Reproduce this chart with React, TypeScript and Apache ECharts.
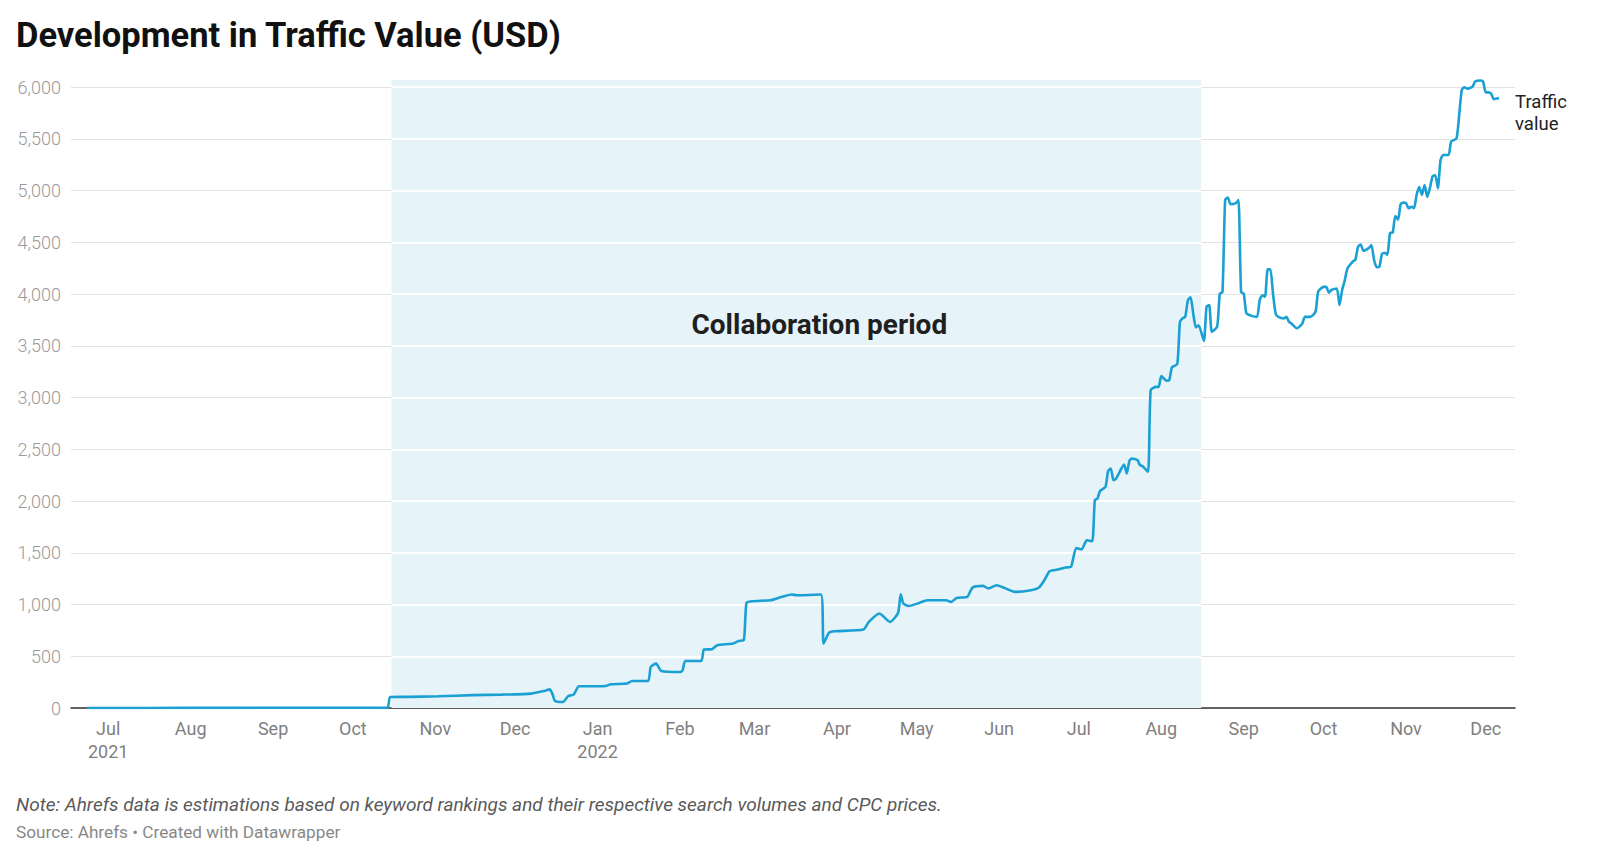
import React, { useEffect, useRef } from "react";
import * as echarts from "echarts";

// ---- data ----
const dates: string[] = [
  "2021-06-23", "2021-08-01", "2021-09-01", "2021-10-01", "2021-10-14", "2021-10-15", "2021-10-22",
  "2021-11-02", "2021-11-15", "2021-11-26", "2021-12-07", "2021-12-12", "2021-12-14", "2021-12-15",
  "2021-12-16", "2021-12-19", "2021-12-21", "2021-12-23", "2021-12-25", "2021-12-28", "2022-01-04",
  "2022-01-06", "2022-01-12", "2022-01-14", "2022-01-20", "2022-01-21", "2022-01-23", "2022-01-25",
  "2022-02-01", "2022-02-02", "2022-02-03", "2022-02-09", "2022-02-10", "2022-02-13", "2022-02-15",
  "2022-02-21", "2022-02-23", "2022-02-25", "2022-02-26", "2022-02-28", "2022-03-07", "2022-03-10",
  "2022-03-15", "2022-03-17", "2022-03-26", "2022-03-27", "2022-03-29", "2022-03-31", "2022-04-11",
  "2022-04-13", "2022-04-17", "2022-04-18", "2022-04-21", "2022-04-24", "2022-04-25", "2022-04-26",
  "2022-04-28", "2022-05-02", "2022-05-05", "2022-05-12", "2022-05-14", "2022-05-16", "2022-05-20",
  "2022-05-22", "2022-05-26", "2022-05-28", "2022-05-31", "2022-06-03", "2022-06-07", "2022-06-13",
  "2022-06-16", "2022-06-18", "2022-06-20", "2022-06-23", "2022-06-26", "2022-06-28", "2022-06-30",
  "2022-07-02", "2022-07-04", "2022-07-06", "2022-07-07", "2022-07-08", "2022-07-09", "2022-07-11",
  "2022-07-12", "2022-07-13", "2022-07-14", "2022-07-15", "2022-07-17", "2022-07-18", "2022-07-19",
  "2022-07-20", "2022-07-21", "2022-07-23", "2022-07-24", "2022-07-25", "2022-07-27", "2022-07-28",
  "2022-07-30", "2022-07-31", "2022-08-01", "2022-08-03", "2022-08-04", "2022-08-05", "2022-08-07",
  "2022-08-08", "2022-08-09", "2022-08-10", "2022-08-11", "2022-08-12", "2022-08-13", "2022-08-14",
  "2022-08-15", "2022-08-17", "2022-08-18", "2022-08-19", "2022-08-20", "2022-08-22", "2022-08-23",
  "2022-08-24", "2022-08-25", "2022-08-26", "2022-08-27", "2022-08-29", "2022-08-30", "2022-08-31",
  "2022-09-01", "2022-09-02", "2022-09-04", "2022-09-06", "2022-09-07", "2022-09-08", "2022-09-09",
  "2022-09-10", "2022-09-11", "2022-09-12", "2022-09-13", "2022-09-14", "2022-09-16", "2022-09-17",
  "2022-09-18", "2022-09-19", "2022-09-21", "2022-09-23", "2022-09-24", "2022-09-26", "2022-09-28",
  "2022-09-29", "2022-10-01", "2022-10-02", "2022-10-03", "2022-10-04", "2022-10-06", "2022-10-07",
  "2022-10-08", "2022-10-09", "2022-10-10", "2022-10-12", "2022-10-13", "2022-10-14", "2022-10-15",
  "2022-10-16", "2022-10-18", "2022-10-19", "2022-10-20", "2022-10-21", "2022-10-22", "2022-10-23",
  "2022-10-24", "2022-10-25", "2022-10-26", "2022-10-27", "2022-10-28", "2022-10-29", "2022-10-30",
  "2022-10-31", "2022-11-01", "2022-11-02", "2022-11-03", "2022-11-04", "2022-11-05", "2022-11-06",
  "2022-11-07", "2022-11-08", "2022-11-09", "2022-11-10", "2022-11-11", "2022-11-12", "2022-11-13",
  "2022-11-14", "2022-11-15", "2022-11-17", "2022-11-18", "2022-11-20", "2022-11-21", "2022-11-22",
  "2022-11-23", "2022-11-24", "2022-11-26", "2022-11-27", "2022-11-29", "2022-11-30", "2022-12-01",
  "2022-12-02", "2022-12-03", "2022-12-04", "2022-12-06",
];

const trafficValue: number[] = [
  0, 1, 2, 3, 5, 106, 108,
  113, 124, 129, 139, 165, 180, 139,
  68, 58, 116, 129, 210, 210, 213,
  229, 236, 261, 261, 397, 429, 358,
  348, 365, 455, 455, 565, 568, 606,
  623, 648, 655, 1016, 1032, 1042, 1064,
  1097, 1090, 1097, 623, 726, 742, 758,
  832, 913, 897, 832, 919, 1100, 1010,
  986, 1016, 1042, 1042, 1025, 1064, 1074,
  1164, 1180, 1155, 1187, 1161, 1122, 1138,
  1164, 1235, 1322, 1338, 1358, 1363, 1547,
  1532, 1622, 1612, 2009, 2025, 2099, 2138,
  2292, 2315, 2202, 2218, 2315, 2354, 2267,
  2389, 2412, 2396, 2347, 2337, 2283, 3073,
  3104, 3104, 3208, 3163, 3170, 3292, 3324,
  3733, 3766, 3782, 3943, 3969, 3814, 3679,
  3700, 3549, 3878, 3895, 3636, 3685, 4005,
  4020, 4910, 4935, 4870, 4880, 4910, 4020,
  4005, 3815, 3790, 3780, 3945, 3990, 3975,
  4240, 4240, 4005, 3810, 3780, 3765, 3780,
  3735, 3715, 3670, 3715, 3780, 3780, 3830,
  4025, 4070, 4070, 4015, 4040, 4055, 3895,
  4040, 4135, 4250, 4315, 4335, 4460, 4480,
  4420, 4445, 4475, 4330, 4260, 4265, 4390,
  4400, 4380, 4590, 4595, 4755, 4720, 4870,
  4885, 4880, 4830, 4845, 4830, 4960, 5035,
  4960, 5055, 4940, 5025, 5140, 5150, 5025,
  5295, 5345, 5345, 5475, 5505, 5730, 5975,
  6000, 5985, 6005, 6055, 6065, 6055, 5950,
  5950, 5940, 5885, 5895,
];

const monthTicks: string[] = [
  "2021-07-01", "2021-08-01", "2021-09-01", "2021-10-01", "2021-11-01", "2021-12-01",
  "2022-01-01", "2022-02-01", "2022-03-01", "2022-04-01", "2022-05-01", "2022-06-01",
  "2022-07-01", "2022-08-01", "2022-09-01", "2022-10-01", "2022-11-01", "2022-12-01",
];
const monthNames: string[] = ["Jan", "Feb", "Mar", "Apr", "May", "Jun", "Jul", "Aug", "Sep", "Oct", "Nov", "Dec"];

const periodStart = "2021-10-15T12:00:00Z";
const periodEnd = "2022-08-16T00:00:00Z";
const periodLabel = "Collaboration period";
const xMin = "2021-06-17";
const xMax = "2022-12-12";
const yMax = 6070;
const yInterval = 500;
const gridValues: number[] = [500, 1000, 1500, 2000, 2500, 3000, 3500, 4000, 4500, 5000, 5500, 6000];

const title = "Development in Traffic Value (USD)";
const note = "Note: Ahrefs data is estimations based on keyword rankings and their respective search volumes and CPC prices.";
const source = "Source: Ahrefs • Created with Datawrapper";

const FONT = "Roboto, 'Noto Sans', sans-serif";

export default function App() {
  const ref = useRef<HTMLDivElement>(null);

  useEffect(() => {
    document.body.style.margin = "0";
    if (!ref.current) return;
    const chart = echarts.init(ref.current, null, { renderer: "svg" });
    const t = (s: string) => Date.parse(s.length === 10 ? s + "T00:00:00Z" : s);
    const seriesData = dates.map((d, i) => [t(d), trafficValue[i]]);
    const ps = t(periodStart);
    const pe = t(periodEnd);

    const option: any = {
      animation: false,
      backgroundColor: "#ffffff",
      textStyle: { fontFamily: FONT },
      grid: { left: 71, right: 85, top: 80, bottom: 152, containLabel: false },
      xAxis: {
        type: "value",
        min: t(xMin),
        max: t(xMax),
        axisLine: { show: true, lineStyle: { color: "#333333", width: 1.5 } },
        axisTick: { show: false },
        splitLine: { show: false },
        axisLabel: {
          customValues: monthTicks.map(t),
          color: "#808080",
          fontSize: 18,
          fontFamily: FONT,
          lineHeight: 23,
          margin: 9,
          formatter: (v: number) => {
            const d = new Date(v);
            const m = d.getUTCMonth();
            const y = d.getUTCFullYear();
            const first = t(monthTicks[0]) === v;
            return m === 0 || first ? monthNames[m] + "\n" + y : monthNames[m];
          },
        },
      },
      yAxis: {
        type: "value",
        min: 0,
        max: yMax,
        interval: yInterval,
        axisLine: { show: false },
        axisTick: { show: false },
        splitLine: { show: true, showMaxLine: false, lineStyle: { color: "#e2e2e2", width: 1 } },
        axisLabel: {
          color: "#9a9a9a",
          fontSize: 18,
          fontWeight: 300,
          fontFamily: FONT,
          margin: 10,
          showMaxLabel: false,
          formatter: (v: number) => (v % yInterval === 0 ? v.toLocaleString("en-US") : ""),
        },
      },
      series: [
        {
          type: "line",
          name: "period",
          data: seriesData,
          z: 1,
          silent: true,
          showSymbol: false,
          symbol: "none",
          lineStyle: { opacity: 0 },
          markArea: {
            silent: true,
            itemStyle: { color: "#e6f3f9" },
            label: {
              show: true,
              position: "inside",
              formatter: periodLabel,
              fontSize: 28,
              fontWeight: "bold",
              color: "#1f1f1f",
              fontFamily: FONT,
              offset: [23, -70],
            },
            data: [[{ xAxis: ps, yAxis: yMax }, { xAxis: pe, yAxis: 0 }]],
          },
          markLine: {
            silent: true,
            symbol: "none",
            label: { show: false },
            lineStyle: { color: "#ffffff", width: 2, type: "solid" },
            data: gridValues.map((v) => [{ coord: [ps, v] }, { coord: [pe, v] }]),
          },
        },
        {
          type: "line",
          name: "Traffic value",
          data: seriesData,
          z: 5,
          showSymbol: false,
          symbol: "none",
          smooth: 0.2,
          lineStyle: { color: "#1aa0d3", width: 2.6 },
          endLabel: {
            show: true,
            formatter: "Traffic\nvalue",
            fontSize: 18.5,
            lineHeight: 22,
            color: "#222222",
            fontFamily: FONT,
            distance: 16,
            offset: [0, 15],
            align: "left",
          },
        },
      ],
      graphic: [
        {
          type: "text",
          left: 16,
          top: 17,
          style: { text: title, fontSize: 34.5, fontWeight: "bold", fill: "#111111", fontFamily: FONT },
        },
        {
          type: "text",
          left: 16,
          top: 795,
          style: { text: note, fontSize: 19, fontStyle: "italic", fill: "#5a5a5a", fontFamily: FONT },
        },
        {
          type: "text",
          left: 16,
          top: 823,
          style: { text: source, fontSize: 17.2, fill: "#888888", fontFamily: FONT },
        },
      ],
    };
    chart.setOption(option);
    return () => chart.dispose();
  }, []);

  return <div ref={ref} style={{ width: 1600, height: 860 }} />;
}
